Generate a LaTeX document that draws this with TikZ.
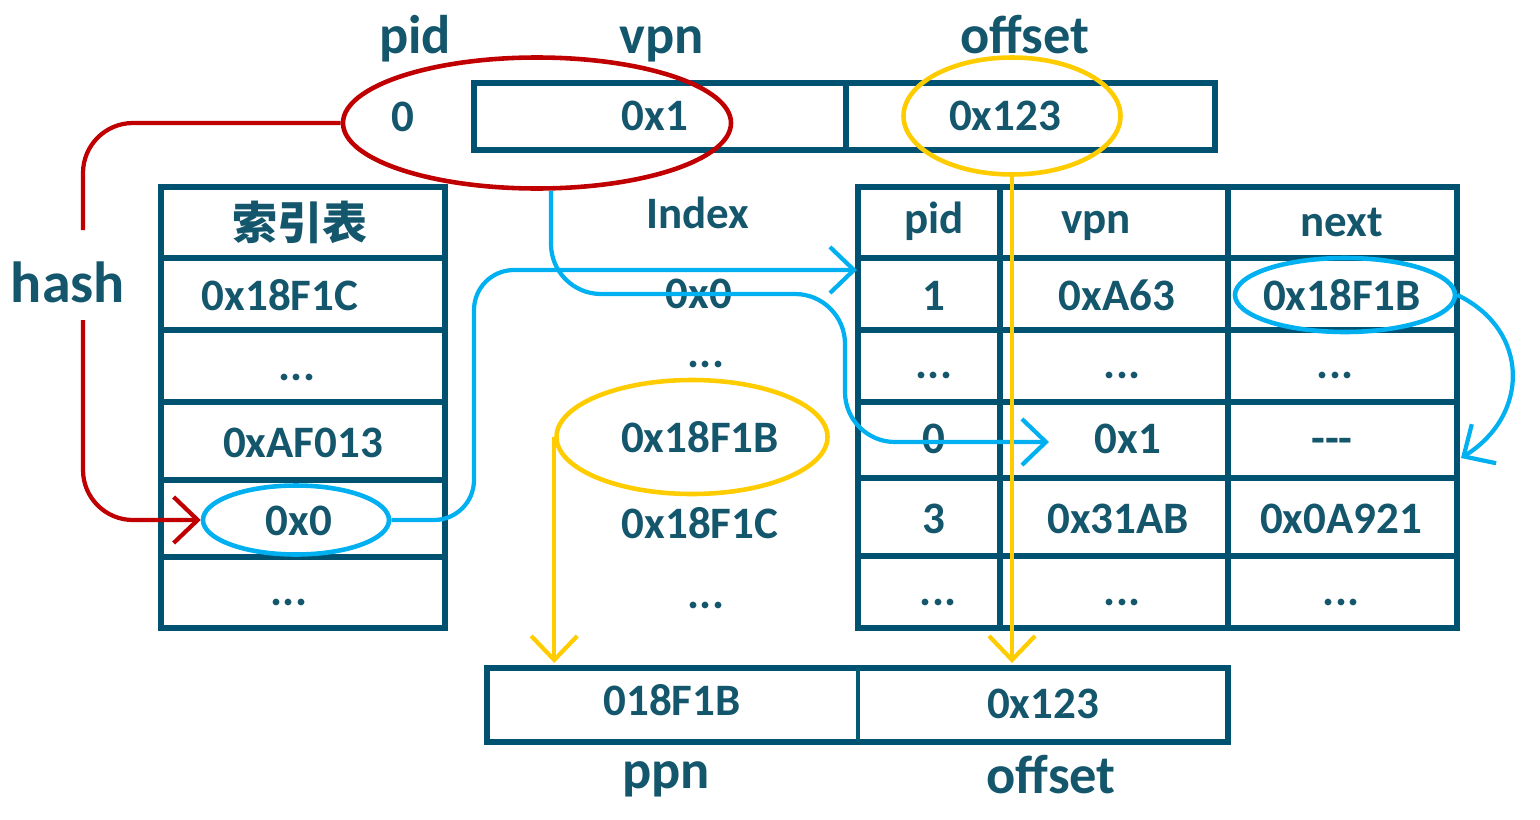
\documentclass[tikz,border=0pt]{standalone}
\usepackage{fontspec}
\setmainfont{Carlito}
\newfontfamily\cjk{Noto Sans CJK SC}
\usetikzlibrary{arrows.meta,shapes.geometric}
\definecolor{ink}{RGB}{20,86,108}
\definecolor{rule}{RGB}{0,82,112}
\definecolor{hashred}{RGB}{192,0,0}
\definecolor{linkblue}{RGB}{0,176,240}
\definecolor{hitgold}{RGB}{255,204,0}
\tikzset{>={Straight Barb[length=2.4mm,width=4.6mm,line width=1.2pt]}}
\tikzset{
  tablines/.style={draw=rule, line width=1.5pt},
  val/.style={text=ink, font=\fontsize{12.8}{14}\selectfont\bfseries, inner sep=0pt, anchor=base},
  lbl/.style={text=ink, font=\fontsize{15.5}{17}\selectfont\bfseries, inner sep=0pt, anchor=base},
  ring/.style={ellipse, draw, line width=1.3pt, inner sep=0pt},
  wire/.style={line width=1.2pt, rounded corners=5mm}
}

\begin{document}
\begin{tikzpicture}[x=0.1mm,y=-0.1mm]
\useasboundingbox (0,0) rectangle (1540,819);
% virtual address
\draw[tablines] (474,83) rectangle (1215,150);
\draw[tablines] (846,83) -- (846,150);
\node[lbl] (pidlbl) at (415,53) {pid};
\node[lbl] (vpnlbl) at (662,53) {vpn};
\node[lbl] (offlbl) at (1025,53) {offset};
\node[val] (pid) at (403,131) {0};
\node[val] (vpn) at (655,130) {0x1};
\node[val] (off) at (1005,130) {0x123};
% index table
\draw[tablines] (161,187) rectangle (445,628);
\foreach \y in {258,330,402,480,557}
  \draw[tablines] (161,\y) -- (445,\y);
\node[text=ink, font=\fontsize{12.8}{14}\selectfont\cjk\bfseries, inner sep=0pt] (idxhead) at (300,222) {索引表};
\node[val] (idx1) at (280,310) {0x18F1C};
\node[val] (idx2) at (297,380) {...};
\node[val] (idx3) at (303,457) {0xAF013};
\node[val] (idx4) at (299,535) {0x0};
\node[val] (idx5) at (289,605) {...};
\node[font=\fontsize{16.5}{18}\selectfont\bfseries, text=ink, inner sep=0pt, anchor=base] (hash) at (68,302) {hash};
% index column
\node[val] (ixhead) at (698,228) {Index};
\node[val] (ix0) at (699,308) {0x0};
\node[val] (ixdots) at (706,367) {...};
\node[val] (ixa) at (700,452) {0x18F1B};
\node[val] (ixb) at (700,538) {0x18F1C};
\node[val] (ixdots2) at (706,608) {...};
% hash table
\draw[tablines] (858,187) rectangle (1457,628);
\foreach \y in {258,330,402,478,556}
  \draw[tablines] (858,\y) -- (1457,\y);
\foreach \x in {1000,1228}
  \draw[tablines] (\x,187) -- (\x,628);
\node[val] (hpid) at (934,233) {pid};
\node[val] (hvpn) at (1096,233) {vpn};
\node[val] (hnext) at (1342,236) {next};
\node[val] (p1) at (934,310) {1};
\node[val] (v1) at (1117,310) {0xA63};
\node[val] (n1) at (1342,310) {0x18F1B};
\node[val] (p2) at (934,378) {...};
\node[val] (v2) at (1122,378) {...};
\node[val] (n2) at (1335,378) {...};
\node[val] (p3) at (934,453) {0};
\node[val] (v3) at (1128,453) {0x1};
\node[val] (n3) at (1332,453) {{-}{-}{-}};
\node[val] (p4) at (934,533) {3};
\node[val] (v4) at (1118,533) {0x31AB};
\node[val] (n4) at (1341,533) {0x0A921};
\node[val] (p5) at (938,605) {...};
\node[val] (v5) at (1122,605) {...};
\node[val] (n5) at (1341,605) {...};
% physical address
\draw[tablines] (487,668) rectangle (1228,742);
\draw[draw=rule!80!teal, line width=1.2pt] (858,668) -- (858,742);
\node[val] (ppn) at (672,715) {018F1B};
\node[val] (poff) at (1043,718) {0x123};
\node[lbl] (ppnlbl) at (666,788) {ppn};
\node[lbl] (pofflbl) at (1051,793) {offset};
% rings
\node[ring, draw=hashred, minimum width=38.8mm, minimum height=13.1mm] (redell) at (537,123) {};
\node[ring, draw=hitgold, minimum width=21.7mm, minimum height=11.7mm] (offell) at (1012,116) {};
\node[ring, draw=linkblue, minimum width=18.6mm, minimum height=6.9mm] (idxell) at (296,520) {};
\node[ring, draw=hitgold, minimum width=27.1mm, minimum height=11.4mm] (ppnell) at (692,437) {};
\node[ring, draw=linkblue, minimum width=22mm, minimum height=7.4mm] (nextell) at (1345,295) {};
% links
\coordinate (hashin) at (83,230);
\coordinate (hashout) at (83,320);
\coordinate (rowtip) at (857,270);
\coordinate (vpntip) at (1049,442);
\coordinate (ppntip) at (558,663);
\coordinate (offtip) at (1014,663);
\coordinate (nexttip) at (1461,458);
\draw[wire, hashred] (redell.west) -| (hashin);
\draw[wire, hashred, ->] (hashout) |- (idxell.west);
\draw[wire, linkblue, ->, rounded corners=4mm] (idxell.east) -| (474,270) -- (rowtip);
\draw[wire, linkblue, ->] ([xshift=1.4mm]redell.south) |- (845,294) |- (vpntip);
\draw[wire, hitgold, ->] (ppnell.west) -- (ppnell.west |- ppntip);
\draw[wire, hitgold, ->] (offell.south) -- (offell.south |- offtip);
\draw[wire, linkblue, ->] (nextell.east) .. controls (1530,330) and (1530,415) .. (nexttip);
\end{tikzpicture}
\end{document}
